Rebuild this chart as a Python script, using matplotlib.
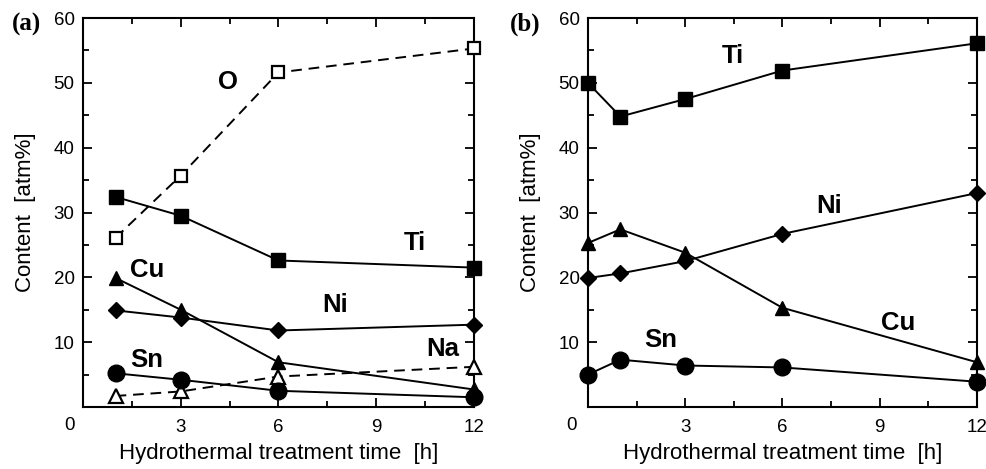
import matplotlib
matplotlib.use("Agg")
import matplotlib.pyplot as plt
from matplotlib.ticker import MultipleLocator

plt.rcParams['font.family'] = ['Liberation Sans', 'DejaVu Sans']

# ---- data panel (a) ----
xa = [1, 3, 6, 12]
a_O = [26.1, 35.7, 51.6, 55.3]
a_Ti = [32.4, 29.5, 22.6, 21.5]
a_Cu = [19.9, 15.0, 6.9, 2.7]
a_Ni = [14.9, 13.8, 11.8, 12.7]
a_Sn = [5.2, 4.2, 2.5, 1.5]
a_Na = [1.7, 2.4, 4.7, 6.2]

# ---- data panel (b) ----
xb = [0, 1, 3, 6, 12]
b_Ti = [50.0, 44.8, 47.5, 51.9, 56.1]
b_Cu = [25.3, 27.4, 23.8, 15.3, 6.9]
b_Ni = [19.9, 20.6, 22.5, 26.7, 33.0]
b_Sn = [5.0, 7.3, 6.4, 6.1, 3.9]

xticks = [0, 3, 6, 9, 12]
yticks = [10, 20, 30, 40, 50, 60]

fig = plt.figure(figsize=(9.87, 4.69), dpi=100)
axA = fig.add_axes([0.0841, 0.1322, 0.3961, 0.8294])
axB = fig.add_axes([0.5957, 0.1322, 0.3941, 0.8294])

LW = 1.4
solid = dict(color='black', lw=LW, clip_on=False, zorder=3)
dash = dict(color='black', lw=LW, ls=(0, (5.5, 3.5)), clip_on=False, zorder=3)

def style(ax, corner_dx):
    ax.set_xlim(0, 12)
    ax.set_ylim(0, 60)
    ax.set_xticks(xticks)
    ax.set_xticklabels([''] + [str(t) for t in xticks[1:]])
    ax.set_yticks(yticks)
    ax.set_yticklabels([str(t) for t in yticks])
    ax.xaxis.set_minor_locator(MultipleLocator(1.5))
    ax.yaxis.set_minor_locator(MultipleLocator(5))
    ax.tick_params(which='both', direction='in', top=True, right=True,
                   width=1.3, labelsize=13.5)
    ax.tick_params(which='major', length=6.5)
    ax.tick_params(which='minor', length=4)
    ax.tick_params(axis='x', which='major', pad=9)
    ax.tick_params(axis='y', which='major', pad=6)
    for s in ax.spines.values():
        s.set_linewidth(1.5)
    ax.annotate('0', xy=(0, 0), xycoords='axes fraction',
                xytext=(corner_dx, -13), textcoords='offset points',
                ha='center', va='center', fontsize=13.5)
    ax.set_xlabel('Hydrothermal treatment time  [h]', fontsize=16, labelpad=5)
    ax.set_ylabel('Content  [atm%]', fontsize=16, labelpad=13)

# panel (a)
axA.plot(xa, a_O, marker='s', ms=9, mfc='white', mec='black', mew=1.6, **dash)
axA.plot(xa, a_Na, marker='^', ms=9.5, mfc='white', mec='black', mew=1.6, **dash)
axA.plot(xa, a_Ti, marker='s', ms=9.5, mfc='black', mec='black', **solid)
axA.plot(xa, a_Cu, marker='^', ms=10.5, mfc='black', mec='black', **solid)
axA.plot(xa, a_Ni, marker='D', ms=8, mfc='black', mec='black', **solid)
axA.plot(xa, a_Sn, marker='o', ms=12, mfc='black', mec='black', **solid)
style(axA, -9.5)
bold = dict(fontsize=18.5, fontweight='bold', ha='center', va='center')
axA.text(4.45, 50.2, 'O', **bold)
axA.text(10.2, 25.3, 'Ti', **bold)
axA.text(1.97, 21.2, 'Cu', **bold)
axA.text(7.75, 15.8, 'Ni', **bold)
axA.text(11.05, 8.9, 'Na', **bold)
axA.text(1.97, 7.3, 'Sn', **bold)

# panel (b)
axB.plot(xb, b_Ti, marker='s', ms=9.5, mfc='black', mec='black', **solid)
axB.plot(xb, b_Cu, marker='^', ms=10.5, mfc='black', mec='black', **solid)
axB.plot(xb, b_Ni, marker='D', ms=8, mfc='black', mec='black', **solid)
axB.plot(xb, b_Sn, marker='o', ms=12, mfc='black', mec='black', **solid)
style(axB, -12)
axB.text(4.46, 54.1, 'Ti', **bold)
axB.text(7.43, 31.0, 'Ni', **bold)
axB.text(9.58, 13.0, 'Cu', **bold)
axB.text(2.25, 10.4, 'Sn', **bold)

serif = dict(fontsize=18, fontweight='bold', family=['Liberation Serif', 'DejaVu Serif'],
             ha='center', va='center')
fig.text(27 / 987, 1 - 24 / 469, '(a)', **serif)
fig.text(525 / 987, 1 - 24 / 469, '(b)', **serif)

fig.savefig('out.png', dpi=100)
